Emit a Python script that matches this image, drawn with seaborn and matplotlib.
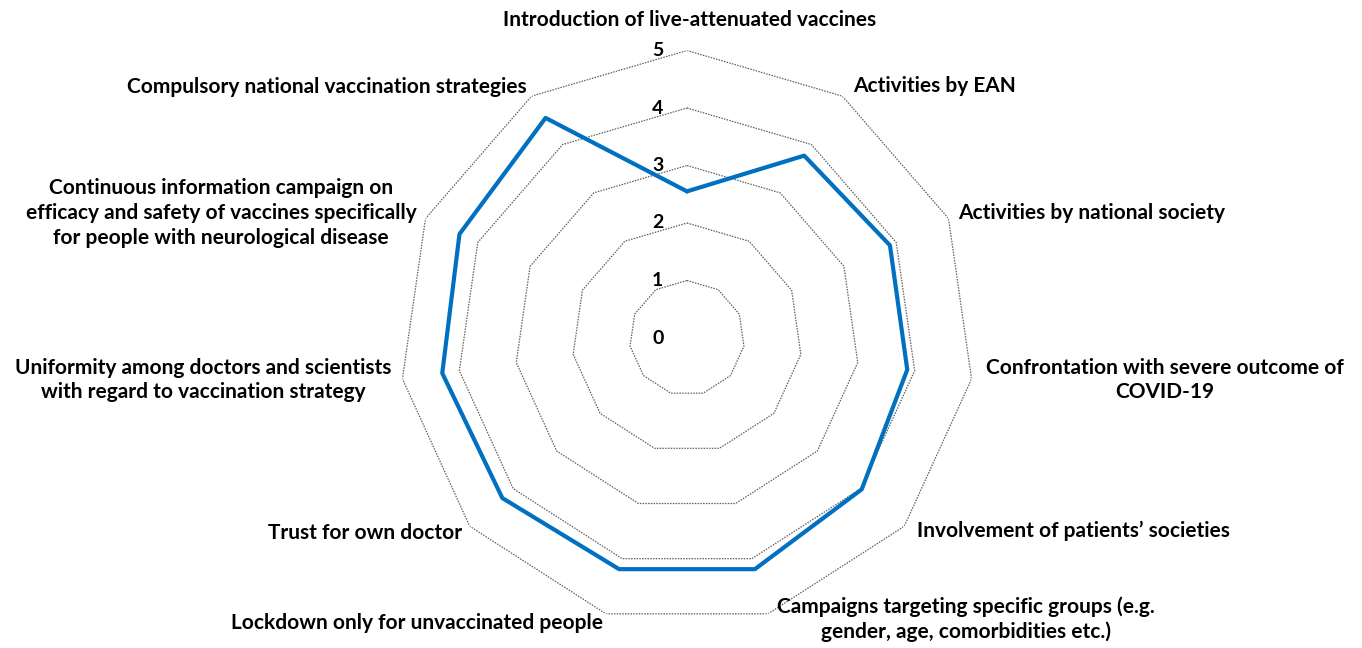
import numpy as np
import pandas as pd
import matplotlib.pyplot as plt
import seaborn as sns

sns.set_theme(style="white")
plt.rcParams["font.family"] = ["Lato", "DejaVu Sans"]

categories = [
    "Introduction of live-attenuated vaccines",
    "Activities by EAN",
    "Activities by national society",
    "Confrontation with severe outcome of\nCOVID-19",
    "Involvement of patients\u2019 societies",
    "Campaigns targeting specific groups (e.g.\ngender, age, comorbidities etc.)",
    "Lockdown only for unvaccinated people",
    "Trust for own doctor",
    "Uniformity among doctors and scientists\nwith regard to vaccination strategy",
    "Continuous information campaign on\nefficacy and safety of vaccines specifically\nfor people with neurological disease",
    "Compulsory national vaccination strategies",
]
scores = [2.55, 3.77, 3.88, 3.87, 4.02, 4.19, 4.19, 4.25, 4.30, 4.35, 4.55]
ring_levels = [0, 1, 2, 3, 4, 5]

W, H = 1362, 648
fig = plt.figure(figsize=(W / 100, H / 100), dpi=100)

# polar axes placed so the centre sits at pixel (687, 338), radius 287 px
cx, cy, R = 687, 338, 287.5
ax = fig.add_axes([(cx - R) / W, (H - cy - R) / H, 2 * R / W, 2 * R / H],
                  projection="polar")
ax.set_theta_offset(np.pi / 2)
ax.set_theta_direction(-1)
ax.set_ylim(0, 5)
ax.grid(False)
ax.spines["polar"].set_visible(False)
ax.set_xticks([])
ax.set_yticks([])
ax.patch.set_alpha(0)

n = len(categories)
theta = np.linspace(0, 2 * np.pi, n, endpoint=False)
theta_closed = np.append(theta, 2 * np.pi)

# polygon grid (dotted)
for lvl in ring_levels[1:]:
    ax.plot(theta_closed, [lvl] * (n + 1), color="#606060", lw=0.9,
            linestyle=(0, (1.2, 1.0)), zorder=1)

# data line (closed loop, no aggregation)
df = pd.DataFrame({"theta": theta_closed, "score": scores + [scores[0]]})
sns.lineplot(data=df, x="theta", y="score", sort=False, estimator=None,
             ax=ax, color="#0070C0", lw=3.0, zorder=3)
ax.set_xlabel("")
ax.set_ylabel("")

# radial tick labels
for lvl in ring_levels:
    ax.annotate(str(lvl), xy=(0, lvl), xytext=(-21, 0),
                textcoords="offset points", ha="center", va="center",
                fontsize=14, fontweight="bold", color="black", zorder=4)

# category labels (pixel anchor, alignment)
label_pos = [
    (690, 20, "center"),
    (853, 86, "left"),
    (958, 213, "left"),
    (1165, 380, "center"),
    (917, 531, "left"),
    (966, 619, "center"),
    (417, 623, "center"),
    (462, 533, "right"),
    (203, 380, "center"),
    (221, 213, "center"),
    (527, 87, "right"),
]
for text, (px, py, ha) in zip(categories, label_pos):
    fig.text(px / W, 1 - py / H, text, ha=ha, va="center", fontsize=15,
             fontweight="bold", color="black", linespacing=1.3,
             multialignment="center")

fig.savefig("out.png", dpi=100)
